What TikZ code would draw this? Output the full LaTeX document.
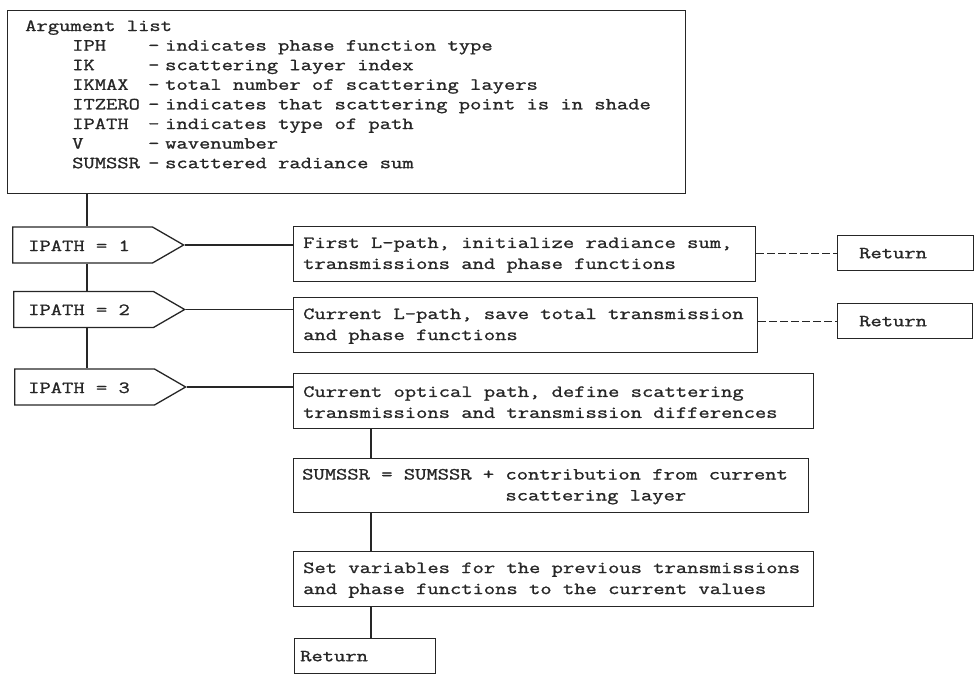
\documentclass[tikz,border=0pt]{standalone}
\usepackage{fontspec}
\setmonofont{Latin Modern Mono}[FakeStretch=1.29, FakeBold=1.2, WordSpace={1,0,0}]
\usetikzlibrary{shapes.symbols}
\begin{document}
\begin{tikzpicture}[x=1pt,y=-1pt,
  txt/.style={inner sep=0pt, font=\ttfamily\fontsize{17}{21}\selectfont, text=black!85},
  line/.style={line width=1.3pt, draw=black!85},
  conn/.style={line},
  dashconn/.style={line, dash pattern=on 8pt off 3pt},
  boxstyle/.style={line, rectangle, anchor=north west, inner sep=0pt},
  boxtext/.style={txt, anchor=west, align=left},
  ipathbox/.style={line, shape=signal, signal to=east, signal pointer angle=60,
    minimum width=171pt, minimum height=36pt, inner sep=0pt, anchor=west}]
\useasboundingbox (0,0) rectangle (978,680);

% argument list
\node[boxstyle, minimum width=678pt, minimum height=183pt] (argbox) at (7,10) {};
\node[txt, anchor=base west] (arghead) at (25,31) {Argument list};
\foreach \i/\nm/\ds in {
  1/IPH/indicates phase function type,
  2/IK/scattering layer index,
  3/IKMAX/total number of scattering layers,
  4/ITZERO/indicates that scattering point is in shade,
  5/IPATH/indicates type of path,
  6/V/wavenumber,
  7/SUMSSR/scattered radiance sum}
  \node[txt, anchor=base west] (arg\i) at (72,{31+19.6*\i})
    {\makebox[76pt][l]{\nm}\makebox[17pt][l]{-}\ds};

% IPATH tests
\node[ipathbox] (p1) at (12,245) {};
\node[ipathbox] (p2) at (13,309.5) {};
\node[ipathbox] (p3) at (14,387) {};
\node[txt, anchor=base west] (p1t) at (28,251) {IPATH = 1};
\node[txt, anchor=base west] (p2t) at (28,315) {IPATH = 2};
\node[txt, anchor=base west] (p3t) at (28,393) {IPATH = 3};

% process boxes
\node[boxstyle, minimum width=462pt, minimum height=55pt] (b1) at (293,226) {};
\node[boxstyle, minimum width=464pt, minimum height=55pt] (b2) at (293,297) {};
\node[boxstyle, minimum width=520pt, minimum height=55pt] (b3) at (293,373) {};
\node[boxstyle, minimum width=515pt, minimum height=54pt] (b4) at (293,458) {};
\node[boxstyle, minimum width=520pt, minimum height=55pt] (b5) at (293,551) {};
\node[boxtext] (b1t) at ([xshift=10pt,yshift=-1pt]b1.west)
  {First L-path, initialize radiance sum,\\transmissions and phase functions};
\node[boxtext] (b2t) at ([xshift=10pt,yshift=-1pt]b2.west)
  {Current L-path, save total transmission\\and phase functions};
\node[boxtext] (b3t) at ([xshift=10pt,yshift=-1pt]b3.west)
  {Current optical path, define scattering\\transmissions and transmission differences};
\node[boxtext] (b4t) at ([xshift=9pt,yshift=-1pt]b4.west)
  {SUMSSR = SUMSSR + contribution from current\\\phantom{SUMSSR = SUMSSR + }scattering layer};
\node[boxtext] (b5t) at ([xshift=10pt,yshift=-1pt]b5.west)
  {Set variables for the previous transmissions\\and phase functions to the current values};

% returns
\node[boxstyle, minimum width=136pt, minimum height=35pt] (r1) at (837,235) {};
\node[boxstyle, minimum width=135pt, minimum height=35pt] (r2) at (837,303) {};
\node[boxstyle, minimum width=141pt, minimum height=35pt] (r3) at (294,638) {};
\node[boxtext] (r1t) at ([xshift=22pt]r1.west) {Return};
\node[boxtext] (r2t) at ([xshift=22pt]r2.west) {Return};
\node[boxtext] (r3t) at ([xshift=6pt]r3.west) {Return};

% guide columns for vertical connectors
\coordinate (trunk) at (87,0);
\coordinate (spine) at (371,0);

\draw[conn] (argbox.south -| trunk) -- (p1.north -| trunk);
\draw[conn] (p1.south -| trunk) -- (p2.north -| trunk);
\draw[conn] (p2.south -| trunk) -- (p3.north -| trunk);

\draw[conn] (p1.east) -- (p1.east -| b1.west);
\draw[conn] (p2.east) -- (p2.east -| b2.west);
\draw[conn] (p3.east) -- (p3.east -| b3.west);

\draw[dashconn] (b1.east |- r1.west) -- (r1.west);
\draw[dashconn] (b2.east |- r2.west) -- (r2.west);

\draw[conn] (b3.south -| spine) -- (b4.north -| spine);
\draw[conn] (b4.south -| spine) -- (b5.north -| spine);
\draw[conn] (b5.south -| spine) -- (r3.north -| spine);
\end{tikzpicture}
\end{document}
